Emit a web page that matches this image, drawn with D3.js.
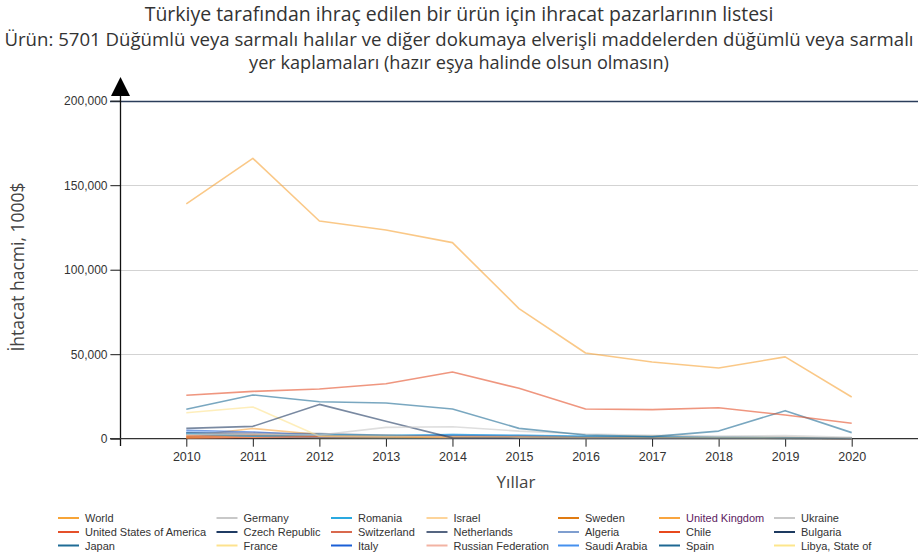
<!DOCTYPE html>
<html><head><meta charset="utf-8">
<script src="https://cdn.jsdelivr.net/npm/d3@7"></script>
<style>
html,body{margin:0;padding:0;background:#fff;}
svg{display:block;}
</style></head>
<body>
<svg id="chart" width="918" height="559"></svg>
<script>
const titleLines = [
  "Türkiye tarafından ihraç edilen bir ürün için ihracat pazarlarının listesi",
  "Ürün: 5701 Düğümlü veya sarmalı halılar ve diğer dokumaya elverişli maddelerden düğümlü veya sarmalı",
  "yer kaplamaları (hazır eşya halinde olsun olmasın)"
];
const yAxisTitle = "İhtacat hacmi, 1000$";
const xAxisTitle = "Yıllar";
const years = [2010,2011,2012,2013,2014,2015,2016,2017,2018,2019,2020];
const yTicks = [0,50000,100000,150000,200000];

const seriesNames = ["World","United States of America","Japan","Germany","Czech Republic","France","Romania","Switzerland","Italy","Israel","Netherlands","Russian Federation","Sweden","Algeria","Saudi Arabia","United Kingdom","Chile","Spain","Ukraine","Bulgaria","Libya, State of"];
const seriesColors = ["#f7a437","#e5502a","#1f6c96","#c8c8c8","#1f3b63","#fde28e","#2aa9e0","#d9694e","#1a5fd6","#fdd49a","#556581","#f2b3a3","#e07b12","#7f9ecf","#4590ee","#f9a53f","#e8481c","#1e6893","#c8c8c8","#1d3a60","#fde68c"];

const vWorld   = [138900,165900,128800,123500,116000,77000,50700,45400,41800,48400,24700];
const vUSA     = [25700,28000,29400,32500,39500,29800,17600,17200,18300,14000,9100];
const vJapan   = [17400,25900,21900,21100,17600,6100,2200,1200,4500,16600,3600];
const vGermany = [2500,3000,2200,6700,7100,4500,2800,2000,1500,1800,800];
const vCzech   = [6100,7300,20300,10300,500,300,200,200,100,100,50];
const vFrance  = [15400,18800,1500,1200,1000,800,600,500,400,300,200];
const vRomania = [3000,1500,2500,2000,2500,2000,1500,1200,800,600,300];
const vSwitz   = [1500,2000,1500,1800,1200,1500,1000,800,600,500,300];
const vItaly   = [5000,4000,2000,1500,1800,1500,1000,900,800,700,300];
const vIsrael  = [2000,2500,2000,1500,1500,1000,800,700,600,500,300];
const vNether  = [3500,3000,3000,2000,1500,1200,800,600,500,400,200];
const vRussia  = [2500,3500,2500,1800,1200,800,500,400,300,400,200];
const vSweden  = [1000,2000,1500,1200,1000,1000,800,700,500,400,200];
const vAlgeria = [3000,1500,1000,1000,2000,1500,1000,800,500,300,100];
const vSaudi   = [4000,3000,2000,1500,2500,2000,1200,800,600,500,300];
const vUK      = [1500,6000,2500,1500,1200,1000,800,1500,1000,800,300];
const vChile   = [500,800,1000,1000,800,600,500,600,400,300,200];
const vSpain   = [3500,2000,1000,800,600,500,400,300,300,200,100];
const vUkraine = [1000,1500,1500,1000,800,600,400,500,300,300,200];
const vBulgaria= [2500,1500,1000,800,600,500,400,300,300,500,100];
const vLibya   = [500,1000,800,600,400,300,200,300,200,100,50];

const seriesValues = [vWorld,vUSA,vJapan,vGermany,vCzech,vFrance,vRomania,vSwitz,vItaly,vIsrael,vNether,vRussia,vSweden,vAlgeria,vSaudi,vUK,vChile,vSpain,vUkraine,vBulgaria,vLibya];

const series = seriesNames.map((n,i)=>({name:n,color:seriesColors[i],values:seriesValues[i]}));

const svg = d3.select("#chart");
const font = "'Liberation Sans', Arial, sans-serif";
const titleFont = "'Open Sans', 'Noto Sans', sans-serif";

const x = d3.scaleLinear().domain([2010,2020]).range([186.3,851.7]);
const y = d3.scaleLinear().domain([0,200000]).range([438.7,100.7]);
const axisX = 120.5;

// titles
const titleTargets = [629, 910, 420];
const titleY = [21, 46, 69];
titleLines.forEach((t,i)=>{
  const el = svg.append("text").attr("x",459).attr("y",titleY[i])
    .attr("text-anchor","middle").attr("font-family",titleFont)
    .attr("font-size",17).attr("fill","#333").text(t);
  const w = el.node().getComputedTextLength();
  if (w>0) el.attr("font-size", 17*titleTargets[i]/w);
});

// gridlines
svg.append("g").selectAll("line").data(yTicks.filter(v=>v>0)).join("line")
  .attr("x1",110).attr("x2",918)
  .attr("y1",d=>Math.round(y(d))+0.5).attr("y2",d=>Math.round(y(d))+0.5)
  .attr("stroke",d=>d===200000?"#2b3d5b":"#d3d3d3")
  .attr("stroke-width",d=>d===200000?1.5:1.2);

// y axis
const yAxis = d3.axisLeft(y).tickValues(yTicks).tickSize(10).tickPadding(3).tickFormat(d3.format(","));
const gy = svg.append("g").attr("transform",`translate(${axisX},0)`).call(yAxis);
gy.select(".domain").remove();
gy.selectAll(".tick line").attr("stroke","#222");
gy.selectAll(".tick text").attr("font-family",font).attr("font-size",12).attr("fill","#333");

// y axis vertical line with arrow
svg.append("line").attr("x1",axisX).attr("x2",axisX).attr("y1",90).attr("y2",446)
  .attr("stroke","#111").attr("stroke-width",1.3);
svg.append("path").attr("d",`M${axisX},77 L${axisX-9.5},96 L${axisX+9.5},96 Z`).attr("fill","#000");

// x axis
const xAxis = d3.axisBottom(x).tickValues(years).tickSize(8).tickPadding(5).tickFormat(d3.format("d"));
const gx = svg.append("g").attr("transform",`translate(0,${y(0)})`).call(xAxis);
gx.select(".domain").remove();
gx.selectAll(".tick line").attr("stroke","#222");
gx.selectAll(".tick text").attr("font-family",font).attr("font-size",12.5).attr("fill","#333");
svg.append("line").attr("x1",110).attr("x2",918).attr("y1",y(0)).attr("y2",y(0))
  .attr("stroke","#333").attr("stroke-width",1.3);

// lines
const line = d3.line().x((d,i)=>x(years[i])).y(d=>y(d));
svg.append("g").selectAll("path").data(series.slice().reverse()).join("path")
  .attr("d",d=>line(d.values)).attr("fill","none")
  .attr("stroke",d=>d.color).attr("stroke-width",1.6).attr("stroke-opacity",0.6)
  .attr("stroke-linejoin","round");

// axis titles
svg.append("text").attr("transform","translate(24,267) rotate(-90)")
  .attr("text-anchor","middle").attr("font-family",titleFont).attr("font-size",17.5)
  .attr("fill","#444").text(yAxisTitle);
svg.append("text").attr("x",516).attr("y",488).attr("text-anchor","middle")
  .attr("font-family",titleFont).attr("font-size",17).attr("fill","#444").text(xAxisTitle);

// legend
const colX = [58,216.5,331,426.5,558,659,774];
const rowY = [518,532,545.5];
const lg = svg.append("g");
series.forEach((s,i)=>{
  const c = Math.floor(i/3), r = i%3;
  const g = lg.append("g").attr("transform",`translate(${colX[c]},${rowY[r]})`);
  g.append("line").attr("x1",0).attr("x2",21).attr("y1",0).attr("y2",0)
    .attr("stroke",s.color).attr("stroke-width",2);
  g.append("text").attr("x",27).attr("y",4).attr("font-family",font).attr("font-size",11)
    .attr("fill",s.name==="United Kingdom"?"#5b2160":"#333").text(s.name);
});
</script>
</body></html>
